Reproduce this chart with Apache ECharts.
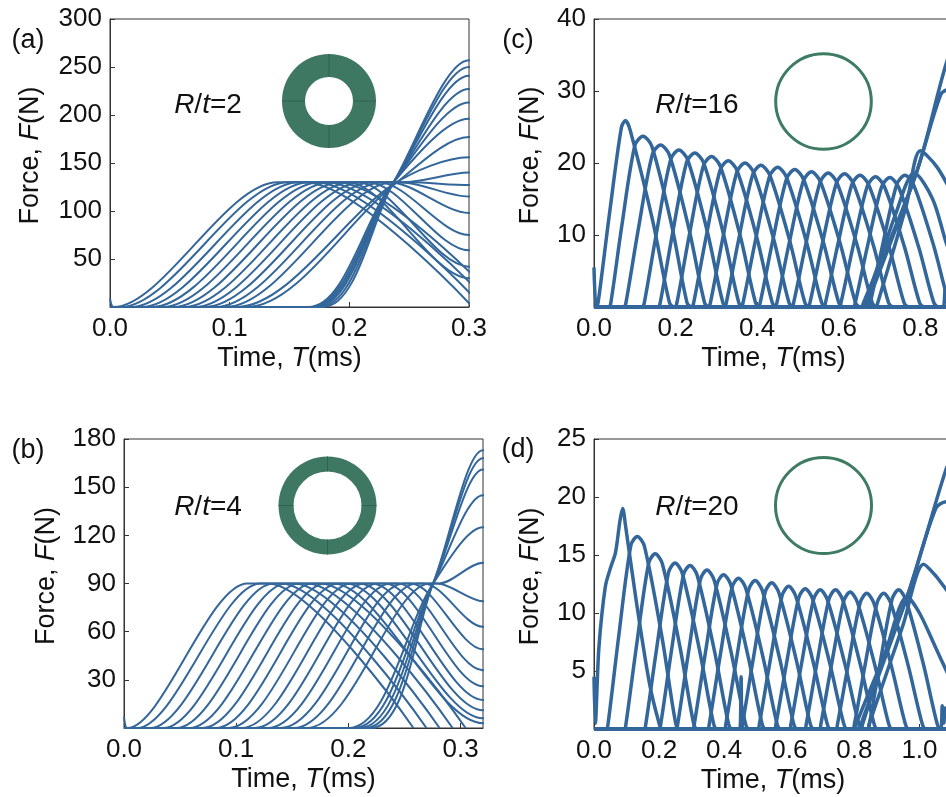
<!DOCTYPE html>
<html>
<head>
<meta charset="utf-8">
<script src="https://cdn.jsdelivr.net/npm/echarts@6/dist/echarts.min.js"></script>
<style>
html,body{margin:0;padding:0;background:#fff;}
#chart{width:946px;height:797px;}
</style>
</head>
<body>
<div id="chart"></div>
<script>
// Contact force histories of a chain of rings, one line per ring: [time (ms), force (N)]

// (a) R/t = 2
const curvesA = [
  [[0,9],[0.003,0],[0.14,130],[0.163,130],[0.303,0]],
  [[0,0],[0.0088,0],[0.1488,130],[0.1718,130],[0.3118,0]],
  [[0,0],[0.0176,0],[0.1576,130],[0.1806,130],[0.3206,0]],
  [[0,0],[0.0264,0],[0.1664,130],[0.1894,130],[0.3294,0]],
  [[0,0],[0.0352,0],[0.1752,130],[0.1982,130],[0.3,30],[0.31,30]],
  [[0,0],[0.044,0],[0.184,130],[0.207,130],[0.3,42],[0.31,42]],
  [[0,0],[0.0528,0],[0.1928,130],[0.2158,130],[0.3,59],[0.31,59]],
  [[0,0],[0.0616,0],[0.2016,130],[0.2246,130],[0.3,75],[0.31,75]],
  [[0,0],[0.0704,0],[0.2104,130],[0.2334,130],[0.3,98],[0.31,98]],
  [[0,0],[0.0792,0],[0.2192,130],[0.2422,130],[0.3,115],[0.31,115]],
  [[0,0],[0.088,0],[0.228,130],[0.25,130],[0.3,127],[0.31,127]],
  [[0,0],[0.0968,0],[0.2368,130],[0.245,130],[0.3,140],[0.31,140]],
  [[0,0],[0.1056,0],[0.237,128],[0.3,156],[0.31,156]],
  [[0,0],[0.1144,0],[0.237,127],[0.3,177],[0.31,177]],
  [[0,0],[0.166,0],[0.237,130],[0.3,196],[0.31,196]],
  [[0,0],[0.168,0],[0.237,130],[0.3,213],[0.31,213]],
  [[0,0],[0.17,0],[0.237,130],[0.3,227],[0.31,227]],
  [[0,0],[0.172,0],[0.237,130],[0.3,241],[0.31,241]],
  [[0,0],[0.175,0],[0.237,130],[0.3,250],[0.31,250]],
  [[0,0],[0.178,0],[0.237,130],[0.3,257],[0.31,257]]
];

// (b) R/t = 4
const curvesB = [
  [[0,7],[0.003,0],[0.11,90],[0.128,90],[0.258,0]],
  [[0,0],[0.0116,0],[0.1216,90],[0.1396,90],[0.2696,0]],
  [[0,0],[0.0233,0],[0.1333,90],[0.1513,90],[0.2813,0]],
  [[0,0],[0.0349,0],[0.1449,90],[0.1629,90],[0.2929,0]],
  [[0,0],[0.0465,0],[0.1565,90],[0.1745,90],[0.3045,0]],
  [[0,0],[0.0582,0],[0.1682,90],[0.1862,90],[0.32,3],[0.33,3]],
  [[0,0],[0.0698,0],[0.1798,90],[0.1978,90],[0.32,6],[0.33,6]],
  [[0,0],[0.0814,0],[0.1914,90],[0.2094,90],[0.32,11],[0.33,11]],
  [[0,0],[0.093,0],[0.203,90],[0.221,90],[0.32,17.5],[0.33,17.5]],
  [[0,0],[0.1047,0],[0.2147,90],[0.2327,90],[0.32,26],[0.33,26]],
  [[0,0],[0.1163,0],[0.2263,90],[0.2443,90],[0.32,36],[0.33,36]],
  [[0,0],[0.1279,0],[0.2379,90],[0.2559,90],[0.32,49],[0.33,49]],
  [[0,0],[0.1396,0],[0.2496,90],[0.2676,90],[0.32,63],[0.33,63]],
  [[0,0],[0.1512,0],[0.2612,90],[0.2792,90],[0.32,79],[0.33,79]],
  [[0,0],[0.1628,0],[0.2728,90],[0.2808,90],[0.32,103],[0.33,103]],
  [[0,0],[0.2,0],[0.2755,90],[0.32,125],[0.33,125]],
  [[0,0],[0.205,0],[0.2755,90],[0.32,145],[0.33,145]],
  [[0,0],[0.21,0],[0.2755,90],[0.32,161],[0.33,161]],
  [[0,0],[0.215,0],[0.2755,90],[0.32,168],[0.33,168]],
  [[0,0],[0.22,0],[0.2755,90],[0.32,173],[0.33,173]]
];

// (c) R/t = 16
const curvesC = [
  [[0,5.5],[0.005,0],[0.01,0.6],[0.038,13],[0.067,24.9],[0.077,25.9],[0.089,24.5],[0.143,12.2],[0.185,0.6],[0.197,0],[0.9,0]],
  [[0,0],[0.036,0],[0.041,0.5],[0.068,11.2],[0.1,22.4],[0.12,23.7],[0.142,22.3],[0.191,11.2],[0.228,0.6],[0.24,0],[0.9,0]],
  [[0,0],[0.073,0],[0.078,0.5],[0.108,10.6],[0.143,21.2],[0.163,22.5],[0.185,21.1],[0.234,10.55],[0.271,0.6],[0.283,0],[0.9,0]],
  [[0,0],[0.118,0],[0.123,0.5],[0.153,10.25],[0.188,20.5],[0.208,21.8],[0.23,20.4],[0.279,10.2],[0.316,0.6],[0.328,0],[0.9,0]],
  [[0,0],[0.157,0],[0.162,0.5],[0.192,10.05],[0.227,20.1],[0.247,21.4],[0.269,20],[0.318,10],[0.355,0.6],[0.367,0],[0.9,0]],
  [[0,0],[0.198,0],[0.203,0.5],[0.233,9.8],[0.268,19.6],[0.288,20.9],[0.31,19.5],[0.359,9.75],[0.396,0.6],[0.408,0],[0.9,0]],
  [[0,0],[0.239,0],[0.244,0.5],[0.274,9.5],[0.309,19],[0.329,20.3],[0.351,18.9],[0.4,9.45],[0.437,0.6],[0.449,0],[0.9,0]],
  [[0,0],[0.28,0],[0.285,0.5],[0.315,9.35],[0.35,18.7],[0.37,20],[0.392,18.6],[0.441,9.3],[0.478,0.6],[0.49,0],[0.9,0]],
  [[0,0],[0.319,0],[0.324,0.5],[0.354,9.2],[0.389,18.4],[0.409,19.7],[0.431,18.3],[0.48,9.15],[0.517,0.6],[0.529,0],[0.9,0]],
  [[0,0],[0.36,0],[0.365,0.5],[0.395,9.05],[0.43,18.1],[0.45,19.4],[0.472,18],[0.521,9],[0.558,0.6],[0.57,0],[0.9,0]],
  [[0,0],[0.402,0],[0.407,0.5],[0.437,8.9],[0.472,17.8],[0.492,19.1],[0.514,17.7],[0.563,8.85],[0.6,0.6],[0.612,0],[0.9,0]],
  [[0,0],[0.443,0],[0.448,0.5],[0.478,8.75],[0.513,17.5],[0.533,18.8],[0.555,17.4],[0.604,8.7],[0.641,0.6],[0.653,0],[0.9,0]],
  [[0,0],[0.484,0],[0.489,0.5],[0.519,8.65],[0.554,17.3],[0.574,18.6],[0.596,17.2],[0.645,8.6],[0.682,0.6],[0.694,0],[0.9,0]],
  [[0,0],[0.524,0],[0.529,0.5],[0.559,8.6],[0.594,17.2],[0.614,18.5],[0.636,17.1],[0.685,8.55],[0.722,0.6],[0.734,0],[0.9,0]],
  [[0,0],[0.562,0],[0.567,0.5],[0.597,8.5],[0.632,17],[0.652,18.3],[0.674,16.9],[0.723,8.45],[0.76,0.6],[0.772,0],[0.9,0]],
  [[0,0],[0.6,0],[0.605,0.5],[0.635,8.4],[0.67,16.8],[0.69,18.1],[0.712,16.7],[0.761,8.35],[0.798,0.6],[0.81,0],[0.9,0]],
  [[0,0],[0.635,0],[0.64,0.5],[0.67,8.35],[0.705,16.7],[0.725,18],[0.747,16.6],[0.796,8.3],[0.833,0.6],[0.845,0],[0.856,0],[0.861,2.5],[0.866,1],[0.9,1]],
  [[0,0],[0.672,0],[0.677,0.5],[0.707,8.5],[0.742,17],[0.762,18.3],[0.784,16.9],[0.833,8.45],[0.87,0.6],[0.882,0],[0.9,0]],
  [[0,0],[0.66,0],[0.665,0.5],[0.74,13],[0.785,18.6],[0.83,15],[0.864,8.8],[0.89,5]],
  [[0,0],[0.69,0],[0.695,0.5],[0.765,14],[0.8,21.7],[0.84,19.5],[0.88,15.5]],
  [[0,0],[0.665,0],[0.67,0.5],[0.79,18.6],[0.85,29.5],[0.87,30.2],[0.89,30.2]],
  [[0,0],[0.655,0],[0.66,0.5],[0.79,18.6],[0.87,35],[0.89,35.5]]
];

// (d) R/t = 20
const curvesD = [
  [[0,4.5],[0.004,0.5],[0.015,7],[0.035,12.3],[0.052,14],[0.066,15.2],[0.08,18],[0.088,19],[0.097,17.5],[0.13,11],[0.17,4],[0.2,0.5],[0.21,0],[1.1,0]],
  [[0,0],[0.038,0],[0.043,0.4],[0.0755,7.9],[0.113,15.8],[0.133,16.6],[0.155,15.75],[0.209,7.9],[0.251,0.5],[0.263,0],[1.1,0]],
  [[0,0],[0.093,0],[0.098,0.4],[0.1305,7.15],[0.168,14.3],[0.188,15.1],[0.21,14.25],[0.264,7.1],[0.306,0.5],[0.318,0],[1.1,0]],
  [[0,0],[0.154,0],[0.159,0.4],[0.1915,6.75],[0.229,13.5],[0.249,14.3],[0.271,13.45],[0.325,6.7],[0.367,0.5],[0.379,0],[0.448,0],[0.452,4.5],[0.456,0],[1.1,0]],
  [[0,0],[0.2,0],[0.205,0.4],[0.2375,6.65],[0.275,13.3],[0.295,14.1],[0.317,13.25],[0.371,6.6],[0.413,0.5],[0.425,0],[1.1,0]],
  [[0,0],[0.252,0],[0.257,0.4],[0.2895,6.45],[0.327,12.9],[0.347,13.7],[0.369,12.85],[0.423,6.4],[0.465,0.5],[0.477,0],[1.1,0]],
  [[0,0],[0.303,0],[0.308,0.4],[0.3405,6.25],[0.378,12.5],[0.398,13.3],[0.42,12.45],[0.474,6.2],[0.516,0.5],[0.528,0],[1.1,0]],
  [[0,0],[0.349,0],[0.354,0.4],[0.3865,6.1],[0.424,12.2],[0.444,13],[0.466,12.15],[0.52,6.1],[0.562,0.5],[0.574,0],[1.1,0]],
  [[0,0],[0.4,0],[0.405,0.4],[0.4375,6],[0.475,12],[0.495,12.8],[0.517,11.95],[0.571,6],[0.613,0.5],[0.625,0],[1.1,0]],
  [[0,0],[0.451,0],[0.456,0.4],[0.4885,5.9],[0.526,11.8],[0.546,12.6],[0.568,11.75],[0.622,5.9],[0.664,0.5],[0.676,0],[1.1,0]],
  [[0,0],[0.503,0],[0.508,0.4],[0.5405,5.75],[0.578,11.5],[0.598,12.3],[0.62,11.45],[0.674,5.7],[0.716,0.5],[0.728,0],[1.1,0]],
  [[0,0],[0.554,0],[0.559,0.4],[0.5915,5.65],[0.629,11.3],[0.649,12.1],[0.671,11.25],[0.725,5.6],[0.767,0.5],[0.779,0],[1.1,0]],
  [[0,0],[0.6,0],[0.605,0.4],[0.6375,5.6],[0.675,11.2],[0.695,12],[0.717,11.15],[0.771,5.6],[0.813,0.5],[0.825,0],[1.1,0]],
  [[0,0],[0.647,0],[0.652,0.4],[0.6845,5.6],[0.722,11.2],[0.742,12],[0.764,11.15],[0.818,5.6],[0.86,0.5],[0.872,0],[1.1,0]],
  [[0,0],[0.692,0],[0.697,0.4],[0.7295,5.5],[0.767,11],[0.787,11.8],[0.809,10.95],[0.863,5.5],[0.905,0.5],[0.917,0],[1.1,0]],
  [[0,0],[0.743,0],[0.748,0.4],[0.7805,5.45],[0.818,10.9],[0.838,11.7],[0.86,10.85],[0.914,5.4],[0.956,0.5],[0.968,0],[1.065,0],[1.07,2],[1.075,0.5],[1.08,1.8],[1.1,1]],
  [[0,0],[0.795,0],[0.8,0.4],[0.8325,5.45],[0.87,10.9],[0.89,11.7],[0.912,10.85],[0.966,5.4],[1.008,0.5],[1.02,0],[1.1,0]],
  [[0,0],[0.841,0],[0.846,0.4],[0.8785,5.6],[0.916,11.2],[0.936,12],[0.958,11.15],[1.012,5.6],[1.054,0.5],[1.066,0],[1.1,0]],
  [[0,0],[0.82,0],[0.825,0.4],[0.9,7],[0.962,11.4],[1.0,10],[1.05,7],[1.083,5],[1.1,4]],
  [[0,0],[0.84,0],[0.845,0.4],[0.95,9],[1.013,14.2],[1.05,13.2],[1.083,12],[1.1,11.5]],
  [[0,0],[0.815,0],[0.82,0.4],[0.962,11.4],[1.05,19],[1.083,19.6],[1.1,19.6]],
  [[0,0],[0.8,0],[0.805,0.4],[0.962,11.4],[1.083,22.5],[1.1,23]]
];

// Axis extents: [xMax, xInterval, yMax, yInterval]
const axisA = [0.3, 0.1, 300, 50];
const axisB = [0.32, 0.1, 180, 30];
const axisC = [0.88, 0.2, 40, 10];
const axisD = [1.1, 0.2, 25, 5];

const ratioLabels = ['2', '4', '16', '20'];
const panelLabels = ['(a)', '(b)', '(c)', '(d)'];

const FONT = '"Liberation Sans", Arial, Helvetica, sans-serif';
const INK = '#111';
const FRAME = '#333';
const LINE = '#33669a';
const RING = '#3f7862';
const RING_EDGE = '#2f6451';
const HOOP = '#3d7b62';

const chart = echarts.init(document.getElementById('chart'), null, { renderer: 'canvas' });

const grids = [
  { left: 110, top: 19, width: 359, height: 288 },
  { left: 124, top: 439, width: 359, height: 289 },
  { left: 594, top: 19, width: 359, height: 288 },
  { left: 594, top: 439, width: 358, height: 290 }
].map(g => Object.assign({ show: true, borderColor: FRAME, borderWidth: 1, backgroundColor: 'transparent', outerBoundsMode: 'none', containLabel: false }, g));

const axes = [axisA, axisB, axisC, axisD];
const yNameGaps = [66, 64, 50, 50];

const richItalic = { i: { fontStyle: 'italic', fontSize: 27, fontFamily: FONT, color: INK } };

const xAxes = axes.map((ax, i) => ({
  type: 'value', gridIndex: i, min: 0, max: ax[0], interval: ax[1],
  axisLine: { show: true, lineStyle: { color: FRAME, width: 1 } },
  axisTick: { show: true, inside: true, length: 5, lineStyle: { color: FRAME } },
  splitLine: { show: false },
  axisLabel: {
    fontSize: 26, fontFamily: FONT, color: INK, margin: 9,
    showMaxLabel: i === 0, showMinLabel: true,
    formatter: v => v.toFixed(1)
  },
  name: 'Time, {i|T}(ms)', nameLocation: 'middle', nameGap: 38,
  nameTextStyle: { fontSize: 27, fontFamily: FONT, color: INK, rich: richItalic }
}));

const yAxes = axes.map((ax, i) => ({
  type: 'value', gridIndex: i, min: 0, max: ax[2], interval: ax[3],
  axisLine: { show: true, lineStyle: { color: FRAME, width: 1 } },
  axisTick: { show: true, inside: true, length: 5, lineStyle: { color: FRAME } },
  splitLine: { show: false },
  axisLabel: { fontSize: 26, fontFamily: FONT, color: INK, margin: 8, showMinLabel: false },
  name: 'Force, {i|F}(N)', nameLocation: 'middle', nameGap: yNameGaps[i], nameRotate: 90,
  nameTextStyle: { fontSize: 27, fontFamily: FONT, color: INK, padding: [0, 0, 0, 15], rich: richItalic }
}));

function familySeries(curves, idx, width, smooth) {
  return curves.map(c => ({
    type: 'line', xAxisIndex: idx, yAxisIndex: idx, data: c,
    showSymbol: false, symbol: 'none', smooth: smooth, clip: true,
    lineStyle: { color: LINE, width: width }, silent: true, animation: false, z: 3
  }));
}

const series = [].concat(
  familySeries(curvesA, 0, 2, 0.3),
  familySeries(curvesB, 1, 2, 0.3),
  familySeries(curvesC, 2, 3.5, 0.3),
  familySeries(curvesD, 3, 3.5, 0.3)
);

// Panel letters and R/t annotations
const labelPos = [[28, 41], [28, 451], [518, 41], [518, 450]];
const ratioPos = [[208, 105], [208, 507], [697, 105], [697, 507]];
const textEls = [];
panelLabels.forEach((t, i) => textEls.push({
  type: 'text', x: labelPos[i][0], y: labelPos[i][1], z: 10,
  style: { text: t, fontSize: 27, fontFamily: FONT, fill: INK, align: 'center', verticalAlign: 'middle' }
}));
ratioLabels.forEach((r, i) => textEls.push({
  type: 'text', x: ratioPos[i][0], y: ratioPos[i][1], z: 10,
  style: {
    text: '{i|R}/{i|t}=' + r, fontSize: 28, fontFamily: FONT, fill: INK,
    align: 'center', verticalAlign: 'middle',
    rich: { i: { fontStyle: 'italic', fontSize: 28, fontFamily: FONT, fill: INK } }
  }
}));

// Cross-section sketches of the rings
function ringSketch(cx, cy, R, r) {
  const els = [{ type: 'ring', shape: { cx: cx, cy: cy, r: R, r0: r }, style: { fill: RING }, z: 5 }];
  [[cx, cy - R, cx, cy - r], [cx, cy + r, cx, cy + R], [cx - R, cy, cx - r, cy], [cx + r, cy, cx + R, cy]].forEach(s => {
    els.push({ type: 'line', shape: { x1: s[0], y1: s[1], x2: s[2], y2: s[3] }, style: { stroke: RING_EDGE, lineWidth: 1 }, z: 6 });
  });
  return els;
}
const sketches = [].concat(
  ringSketch(329, 101, 47, 24),
  ringSketch(327.5, 505.5, 49, 34),
  [{ type: 'circle', shape: { cx: 823.5, cy: 101.5, r: 47.8 }, style: { fill: 'none', stroke: HOOP, lineWidth: 3 }, z: 5 },
   { type: 'circle', shape: { cx: 823.5, cy: 505.5, r: 48 }, style: { fill: 'none', stroke: HOOP, lineWidth: 3 }, z: 5 }]
);

chart.setOption({
  animation: false,
  backgroundColor: '#fff',
  grid: grids,
  xAxis: xAxes,
  yAxis: yAxes,
  series: series,
  graphic: { elements: textEls.concat(sketches) }
});
</script>
</body>
</html>
